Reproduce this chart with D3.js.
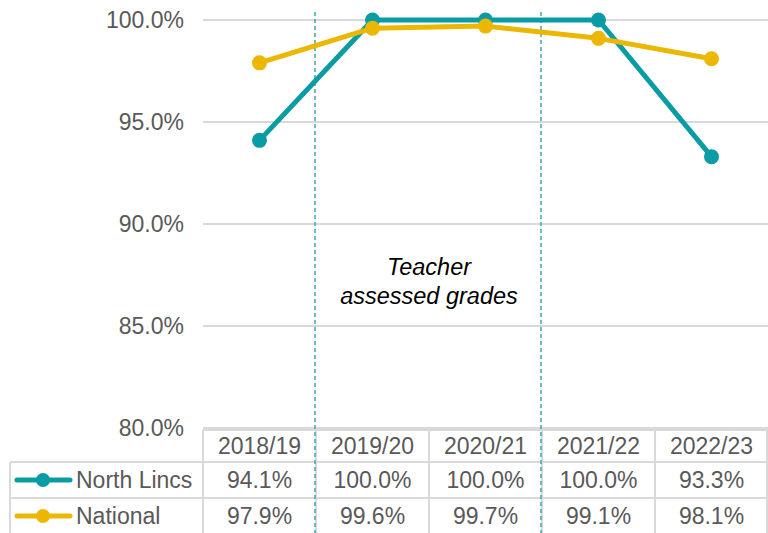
<!DOCTYPE html>
<html>
<head>
<meta charset="utf-8">
<script src="https://cdn.jsdelivr.net/npm/d3@7"></script>
<style>
body { margin: 0; background: #fff; }
svg text { font-family: "Liberation Sans", Arial, sans-serif; }
</style>
</head>
<body>
<svg id="chart" width="768" height="533"></svg>
<script>
// data
var years = ["2018/19", "2019/20", "2020/21", "2021/22", "2022/23"];
var northLincs = [94.1, 100.0, 100.0, 100.0, 93.3];
var national = [97.9, 99.6, 99.7, 99.1, 98.1];
var yTicks = [80, 85, 90, 95, 100];
var seriesNames = ["North Lincs", "National"];
var seriesColors = ["#0a9ca4", "#ebb700"];

var plotLeft = 203, plotRight = 768, plotTop = 20, plotBottom = 428;
var gridCol = "#d9d9d9", textCol = "#595959";
var fs = 23;

var svg = d3.select("#chart");

var x = d3.scaleBand().domain(years).range([plotLeft, plotRight]);
var y = d3.scaleLinear().domain([80, 100]).range([plotBottom, plotTop]);

// gridlines + y labels
svg.selectAll(".grid").data(yTicks).enter().append("line")
    .attr("x1", plotLeft).attr("x2", plotRight)
    .attr("y1", function (d) { return y(d); }).attr("y2", function (d) { return y(d); })
    .attr("stroke", gridCol).attr("stroke-width", 2);

svg.selectAll(".ylab").data(yTicks).enter().append("text")
    .attr("x", 184).attr("y", function (d) { return y(d); })
    .attr("dy", "0.35em").attr("text-anchor", "end")
    .attr("font-size", fs).attr("fill", textCol)
    .text(function (d) { return d.toFixed(1) + "%"; });

// data table below the plot
var rowY = [430, 462, 498, 534];
var tableLeft = 10;
var t = svg.append("g");
t.append("line").attr("x1", plotLeft).attr("x2", plotRight).attr("y1", rowY[0]).attr("y2", rowY[0]);
t.append("line").attr("x1", tableLeft).attr("x2", plotRight).attr("y1", rowY[1]).attr("y2", rowY[1]);
t.append("line").attr("x1", tableLeft).attr("x2", plotRight).attr("y1", rowY[2]).attr("y2", rowY[2]);
t.append("line").attr("x1", tableLeft).attr("x2", tableLeft).attr("y1", rowY[1]).attr("y2", rowY[3]);
years.forEach(function (yr) {
    var xx = x(yr);
    t.append("line").attr("x1", xx).attr("x2", xx).attr("y1", rowY[0]).attr("y2", rowY[3]);
});
t.append("line").attr("x1", plotRight - 1).attr("x2", plotRight - 1).attr("y1", rowY[0]).attr("y2", rowY[3]);
t.selectAll("line").attr("stroke", gridCol).attr("stroke-width", 2);

// header labels
svg.selectAll(".yr").data(years).enter().append("text")
    .attr("x", function (d) { return x(d) + x.bandwidth() / 2; })
    .attr("y", (rowY[0] + rowY[1]) / 2).attr("dy", "0.35em")
    .attr("text-anchor", "middle").attr("font-size", fs).attr("fill", textCol)
    .text(function (d) { return d; });

var series = [northLincs, national];
series.forEach(function (vals, si) {
    var cy = (rowY[si + 1] + rowY[si + 2]) / 2;
    svg.selectAll(".v" + si).data(vals).enter().append("text")
        .attr("x", function (d, i) { return x(years[i]) + x.bandwidth() / 2; })
        .attr("y", cy).attr("dy", "0.35em")
        .attr("text-anchor", "middle").attr("font-size", fs).attr("fill", textCol)
        .text(function (d) { return d.toFixed(1) + "%"; });
    // legend key
    svg.append("line").attr("x1", 17).attr("x2", 70).attr("y1", cy).attr("y2", cy)
        .attr("stroke", seriesColors[si]).attr("stroke-width", 5).attr("stroke-linecap", "round");
    svg.append("circle").attr("cx", 43).attr("cy", cy).attr("r", 7).attr("fill", seriesColors[si]);
    svg.append("text").attr("x", 76).attr("y", cy).attr("dy", "0.35em")
        .attr("font-size", fs).attr("fill", textCol).text(seriesNames[si]);
});

// dashed dividers around teacher assessed years
[years[1], years[3]].forEach(function (yr) {
    var xx = x(yr) - 1;
    svg.append("line").attr("x1", xx).attr("x2", xx).attr("y1", 12).attr("y2", 533)
        .attr("stroke", "#3aa9b0").attr("stroke-width", 1.5).attr("stroke-dasharray", "4,3");
});

var midX = (x(years[1]) + x(years[3])) / 2;
svg.append("text").attr("x", midX).attr("y", 275)
    .attr("text-anchor", "middle").attr("font-size", 23.5).attr("font-style", "italic")
    .attr("fill", "#000").text("Teacher");
svg.append("text").attr("x", midX).attr("y", 304)
    .attr("text-anchor", "middle").attr("font-size", 23.5).attr("font-style", "italic")
    .attr("fill", "#000").text("assessed grades");

// series lines, national drawn on top
var line = d3.line()
    .x(function (d, i) { return x(years[i]) + x.bandwidth() / 2; })
    .y(function (d) { return y(d); });

series.forEach(function (vals, si) {
    var g = svg.append("g");
    g.append("path").datum(vals).attr("d", line)
        .attr("fill", "none").attr("stroke", seriesColors[si]).attr("stroke-width", 5)
        .attr("stroke-linejoin", "round");
    g.selectAll("circle").data(vals).enter().append("circle")
        .attr("cx", function (d, i) { return x(years[i]) + x.bandwidth() / 2; })
        .attr("cy", function (d) { return y(d); })
        .attr("r", 7.5).attr("fill", seriesColors[si]);
});
</script>
</body>
</html>
